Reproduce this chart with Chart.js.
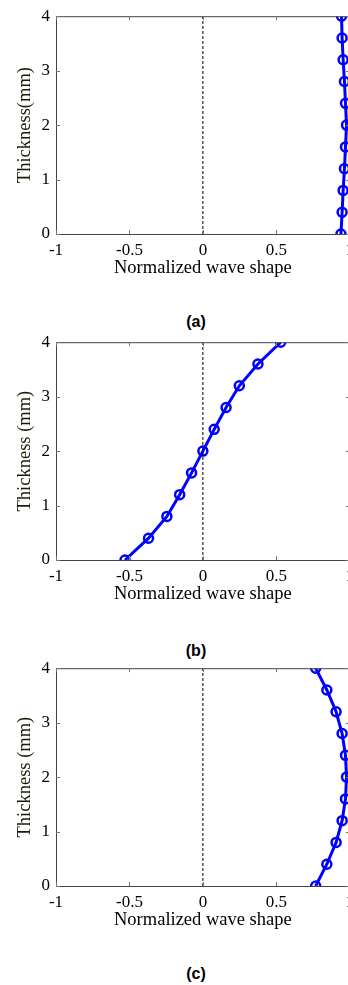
<!DOCTYPE html>
<html>
<head>
<meta charset="utf-8">
<script src="https://cdn.jsdelivr.net/npm/chart.js@4.4.0/dist/chart.umd.min.js"></script>
<style>
  html, body { margin: 0; padding: 0; background: #fff; overflow: hidden; width: 348px; height: 985px; }
  .panel { position: absolute; left: 0; width: 360px; height: 284px; }
  .caption { position: absolute; width: 60px; left: 166px; text-align: center;
             font: bold 16px "Liberation Sans", Arial, sans-serif; color: #000; }
</style>
</head>
<body>
<div class="panel" style="top:0px"><canvas id="chartA"></canvas></div>
<div class="caption" style="top:313px">(a)</div>
<div class="panel" style="top:326px"><canvas id="chartB"></canvas></div>
<div class="caption" style="top:642px">(b)</div>
<div class="panel" style="top:652px"><canvas id="chartC"></canvas></div>
<div class="caption" style="top:965px">(c)</div>
<script>
// --- data ---
const thickness = [0, 0.4, 0.8, 1.2, 1.6, 2.0, 2.4, 2.8, 3.2, 3.6, 4.0];
const shapeA = [0.94, 0.948, 0.955, 0.964, 0.971, 0.978, 0.971, 0.964, 0.955, 0.948, 0.944];
const shapeB = [-0.53, -0.37, -0.245, -0.158, -0.077, 0, 0.077, 0.158, 0.248, 0.375, 0.53];
const shapeC = [0.768, 0.844, 0.907, 0.948, 0.971, 0.978, 0.971, 0.948, 0.907, 0.844, 0.768];
const xTicks = [-1, -0.5, 0, 0.5, 1];
const yTicks = [0, 1, 2, 3, 4];
const zeroLine = [0, 4]; // dashed x = 0 reference, from bottom to top

const serif = '"Liberation Serif", "Times New Roman", serif';

// box around the plot plus MATLAB-style inward tick marks
const boxPlugin = {
    id: 'box',
    afterDraw(chart) {
        const { ctx, chartArea: a, scales } = chart;
        ctx.save();
        ctx.strokeStyle = '#444';
        ctx.lineWidth = 1;
        ctx.strokeRect(a.left + 0.5, a.top + 0.5, a.right - a.left, a.bottom - a.top);
        ctx.strokeStyle = '#777';
        ctx.beginPath();
        xTicks.forEach(v => {
            const x = Math.round(scales.x.getPixelForValue(v)) + 0.5;
            ctx.moveTo(x, a.bottom); ctx.lineTo(x, a.bottom - 4);
            ctx.moveTo(x, a.top); ctx.lineTo(x, a.top + 4);
        });
        yTicks.forEach(v => {
            const y = Math.round(scales.y.getPixelForValue(v)) + 0.5;
            ctx.moveTo(a.left, y); ctx.lineTo(a.left + 4, y);
            ctx.moveTo(a.right, y); ctx.lineTo(a.right - 4, y);
        });
        ctx.stroke();
        ctx.restore();
    }
};

function makeChart(id, values, yTitle) {
    const ctx = document.getElementById(id).getContext('2d');
    return new Chart(ctx, {
        type: 'scatter',
        data: {
            datasets: [
                {
                    data: zeroLine.map(y => ({ x: 0, y: y })),
                    showLine: true,
                    borderColor: '#000',
                    borderWidth: 1,
                    borderDash: [3, 2],
                    pointRadius: 0
                },
                {
                    data: values.map((v, i) => ({ x: v, y: thickness[i] })),
                    showLine: true,
                    borderColor: '#0000ff',
                    borderWidth: 3,
                    pointRadius: 4.5,
                    pointBorderWidth: 2.5,
                    pointBorderColor: '#0000ff',
                    pointBackgroundColor: 'rgba(0,0,0,0)'
                }
            ]
        },
        options: {
            responsive: true,
            maintainAspectRatio: false,
            animation: false,
            layout: { padding: { top: 10, right: 10, left: 0, bottom: 0 } },
            plugins: { legend: { display: false }, tooltip: { enabled: false } },
            scales: {
                x: {
                    type: 'linear',
                    min: -1, max: 1,
                    afterFit: s => { s.height = 50; },
                    grid: { display: false, drawTicks: false },
                    border: { display: false },
                    ticks: {
                        stepSize: 0.5,
                        padding: 6,
                        color: '#000',
                        maxRotation: 0,
                        autoSkip: false,
                        font: { family: serif, size: 17 },
                        callback: v => String(v)
                    },
                    title: {
                        display: true,
                        text: 'Normalized wave shape',
                        color: '#000',
                        font: { family: serif, size: 18.5 },
                        padding: { top: 0, bottom: 5 }
                    }
                },
                y: {
                    type: 'linear',
                    min: 0, max: 4,
                    afterFit: s => { s.width = 56; },
                    grid: { display: false, drawTicks: false },
                    border: { display: false },
                    ticks: {
                        stepSize: 1,
                        padding: 6,
                        color: '#000',
                        font: { family: serif, size: 17 },
                        callback: v => String(v)
                    },
                    title: {
                        display: true,
                        text: yTitle,
                        color: '#1a1a05',
                        font: { family: serif, size: 18.5 },
                        padding: { top: 14, bottom: 0 }
                    }
                }
            }
        },
        plugins: [boxPlugin]
    });
}

makeChart('chartA', shapeA, 'Thickness(mm)');
makeChart('chartB', shapeB, 'Thickness (mm)');
makeChart('chartC', shapeC, 'Thickness (mm)');
</script>
</body>
</html>
